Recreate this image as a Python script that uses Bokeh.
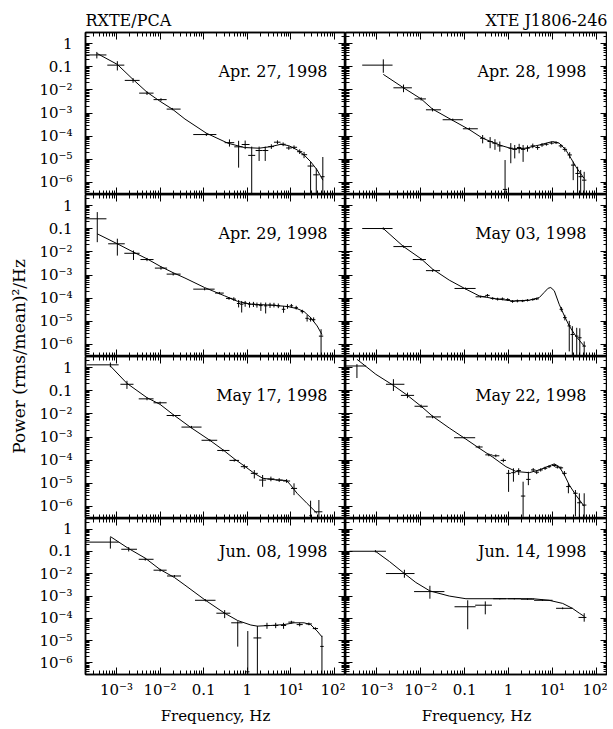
import numpy as np
from bokeh.plotting import figure
from bokeh.models import (ColumnDataSource, Range1d, LogAxis, FixedTicker,
                          CustomJSTickFormatter, Label)
from bokeh.layouts import row, column
from bokeh.embed import file_html
from bokeh.resources import INLINE

# ------------------------------------------------------------------
# DATA (log10 of frequency [Hz] and of power [(rms/mean)^2/Hz])
# logf: bin centre, dfl/dfr: bin half-widths (dex) left/right
# logp: power, dpd/dpu: error bar extent (dex) down/up
# model_*: fitted model curve
# ------------------------------------------------------------------
panel_names = ["Apr. 27, 1998", "Apr. 28, 1998", "Apr. 29, 1998", "May 03, 1998",
               "May 17, 1998", "May 22, 1998", "Jun. 08, 1998", "Jun. 14, 1998"]

apr27_logf = [-3.45, -2.98, -2.62, -2.30, -1.98, -1.72, -0.94, -0.41, -0.20, -0.05, 0.10, 0.27,
              0.41, 0.55, 0.69, 0.82, 0.95, 1.07, 1.20, 1.30, 1.45, 1.58, 1.73]
apr27_dfl = [0.25, 0.23, 0.19, 0.18, 0.17, 0.13, 0.30, 0.11, 0.10, 0.08, 0.08, 0.08,
             0.06, 0.07, 0.08, 0.07, 0.06, 0.06, 0.06, 0.06, 0.07, 0.07, 0.04]
apr27_dfr = [0.22, 0.16, 0.15, 0.15, 0.13, 0.19, 0.23, 0.11, 0.09, 0.10, 0.08, 0.08,
             0.07, 0.06, 0.07, 0.06, 0.07, 0.07, 0.06, 0.07, 0.07, 0.06, 0.04]
apr27_logp = [-0.49, -0.93, -1.59, -2.14, -2.42, -2.83, -3.93, -4.28, -4.46, -4.36, -4.83, -4.62,
              -4.62, -4.45, -4.26, -4.35, -4.51, -4.48, -4.67, -4.80, -5.29, -5.67, -5.75]
apr27_dpd = [0.15, 0.23, 0.10, 0.08, 0.06, 0.05, 0.06, 0.17, 0.90, 0.20, 2.00, 0.45,
             0.45, 0.10, 0.08, 0.08, 0.08, 0.08, 0.10, 0.15, 1.50, 1.00, 1.00]
apr27_dpu = [0.13, 0.17, 0.10, 0.08, 0.06, 0.05, 0.06, 0.14, 0.26, 0.17, 0.38, 0.17,
             0.17, 0.10, 0.08, 0.08, 0.08, 0.08, 0.10, 0.12, 0.19, 0.28, 0.85]
apr27_model_logf = [-3.44, -2.98, -2.62, -2.30, -1.98, -1.72, -1.43, -0.94, -0.45, -0.07, 0.27,
                    0.54, 0.77, 0.95, 1.14, 1.30, 1.45, 1.60, 1.73]
apr27_model_logp = [-0.43, -0.90, -1.55, -2.10, -2.52, -2.83, -3.26, -3.87, -4.30, -4.49, -4.52,
                    -4.45, -4.35, -4.41, -4.59, -4.81, -5.10, -5.46, -5.90]

apr28_logf = [-2.85, -2.39, -1.99, -1.73, -1.27, -0.89, -0.59, -0.42, -0.31, -0.20, -0.08, 0.05,
              0.14, 0.24, 0.33, 0.43, 0.55, 0.66, 0.76, 0.86, 0.98, 1.08, 1.19, 1.28, 1.39,
              1.47, 1.57, 1.64, 1.72]
apr28_dfl = [0.48, 0.23, 0.15, 0.15, 0.23, 0.15, 0.06, 0.06, 0.06, 0.06, 0.05, 0.05,
             0.05, 0.05, 0.05, 0.05, 0.05, 0.05, 0.05, 0.05, 0.05, 0.05, 0.05, 0.05, 0.05,
             0.05, 0.05, 0.05, 0.05]
apr28_dfr = [0.21, 0.19, 0.11, 0.19, 0.23, 0.19, 0.06, 0.06, 0.06, 0.06, 0.05, 0.05,
             0.05, 0.05, 0.05, 0.05, 0.05, 0.05, 0.05, 0.05, 0.05, 0.05, 0.05, 0.05, 0.05,
             0.05, 0.05, 0.05, 0.05]
apr28_logp = [-0.93, -1.91, -2.39, -2.86, -3.29, -3.68, -4.09, -4.23, -4.30, -4.42, -6.30, -4.52,
              -4.57, -4.49, -4.57, -4.52, -4.42, -4.49, -4.38, -4.35, -4.30, -4.28, -4.42, -4.57,
              -4.81, -5.25, -5.61, -5.75, -5.90]
apr28_dpd = [0.33, 0.19, 0.07, 0.07, 0.05, 0.05, 0.22, 0.29, 0.29, 0.25, 0.50, 0.65,
             0.39, 0.25, 0.54, 0.15, 0.10, 0.10, 0.08, 0.06, 0.06, 0.06, 0.08, 0.10, 0.15,
             0.65, 1.00, 1.00, 1.00]
apr28_dpu = [0.25, 0.14, 0.07, 0.07, 0.05, 0.05, 0.14, 0.19, 0.17, 0.19, 1.27, 0.22,
             0.19, 0.16, 0.19, 0.12, 0.10, 0.08, 0.08, 0.06, 0.06, 0.06, 0.08, 0.10, 0.12,
             0.15, 0.29, 0.29, 0.36]
apr28_model_logf = [-2.85, -2.39, -1.99, -1.73, -1.27, -0.89, -0.59, -0.21, 0.09, 0.39, 0.70,
                    1.00, 1.15, 1.30, 1.42, 1.53, 1.72]
apr28_model_logp = [-1.33, -1.91, -2.39, -2.83, -3.32, -3.72, -4.09, -4.38, -4.55, -4.52, -4.38,
                    -4.23, -4.30, -4.59, -4.96, -5.32, -5.83]

apr29_logf = [-3.44, -2.98, -2.61, -2.30, -1.98, -1.70, -0.98, -0.64, -0.42, -0.31, -0.20, -0.13,
              -0.05, 0.05, 0.14, 0.22, 0.31, 0.42, 0.52, 0.61, 0.71, 0.83, 0.92, 1.01, 1.12,
              1.26, 1.37, 1.45, 1.52, 1.69]
apr29_dfl = [0.26, 0.21, 0.21, 0.15, 0.14, 0.15, 0.26, 0.10, 0.07, 0.05, 0.04, 0.04,
             0.04, 0.04, 0.04, 0.04, 0.04, 0.04, 0.04, 0.04, 0.04, 0.04, 0.04, 0.04, 0.04,
             0.04, 0.04, 0.04, 0.04, 0.05]
apr29_dfr = [0.21, 0.17, 0.14, 0.15, 0.14, 0.17, 0.23, 0.10, 0.07, 0.05, 0.04, 0.04,
             0.04, 0.04, 0.04, 0.04, 0.04, 0.04, 0.04, 0.04, 0.04, 0.04, 0.04, 0.04, 0.04,
             0.04, 0.04, 0.04, 0.04, 0.05]
apr29_logp = [-0.57, -1.65, -2.06, -2.33, -2.70, -2.96, -3.61, -3.78, -4.01, -4.04, -4.23, -4.26,
              -4.22, -4.26, -4.26, -4.29, -4.32, -4.33, -4.30, -4.30, -4.33, -4.48, -4.36, -4.33,
              -4.41, -4.58, -4.87, -4.91, -4.93, -5.64]
apr29_dpd = [1.01, 0.51, 0.29, 0.07, 0.07, 0.06, 0.05, 0.05, 0.06, 0.08, 0.17, 0.36,
             0.15, 0.15, 0.12, 0.12, 0.23, 0.33, 0.12, 0.10, 0.10, 0.15, 0.10, 0.08, 0.08,
             0.08, 0.14, 0.10, 0.10, 1.50]
apr29_dpu = [0.29, 0.22, 0.12, 0.07, 0.07, 0.06, 0.05, 0.05, 0.06, 0.08, 0.15, 0.14,
             0.10, 0.10, 0.10, 0.10, 0.13, 0.14, 0.10, 0.10, 0.10, 0.14, 0.10, 0.08, 0.08,
             0.08, 0.14, 0.10, 0.10, 0.30]
apr29_model_logf = [-3.44, -2.98, -2.61, -2.30, -1.98, -1.70, -1.43, -0.98, -0.52, -0.22, 0.08,
                    0.54, 0.92, 1.14, 1.30, 1.45, 1.60, 1.71]
apr29_model_logp = [-1.22, -1.65, -2.01, -2.30, -2.64, -2.90, -3.13, -3.54, -3.90, -4.14, -4.26,
                    -4.30, -4.36, -4.45, -4.58, -4.84, -5.20, -5.57]

may03_logf = [-2.85, -2.39, -1.99, -1.73, -0.98, -0.64, -0.48, -0.36, -0.25, -0.14, -0.02, 0.09,
              0.20, 0.32, 0.43, 0.55, 0.64, 1.20, 1.28, 1.38, 1.45, 1.55, 1.62, 1.72]
may03_dfl = [0.48, 0.23, 0.19, 0.15, 0.25, 0.11, 0.05, 0.05, 0.05, 0.05, 0.05, 0.05,
             0.05, 0.05, 0.05, 0.05, 0.05, 0.04, 0.04, 0.04, 0.04, 0.04, 0.04, 0.04]
may03_dfr = [0.21, 0.19, 0.11, 0.17, 0.23, 0.13, 0.05, 0.05, 0.05, 0.05, 0.05, 0.05,
             0.05, 0.05, 0.05, 0.05, 0.05, 0.04, 0.04, 0.04, 0.04, 0.04, 0.04, 0.04]
may03_logp = [-0.99, -1.77, -2.33, -2.81, -3.58, -3.94, -3.88, -4.01, -4.04, -4.03, -4.06, -4.14,
              -4.12, -4.12, -4.09, -4.06, -4.03, -4.48, -4.84, -5.20, -5.57, -5.64, -5.71, -6.07]
may03_dpd = [0.05, 0.05, 0.05, 0.05, 0.04, 0.04, 0.06, 0.06, 0.06, 0.06, 0.06, 0.06,
             0.06, 0.05, 0.05, 0.05, 0.05, 0.10, 0.12, 1.10, 0.90, 0.90, 0.80, 0.50]
may03_dpu = [0.05, 0.05, 0.05, 0.05, 0.04, 0.04, 0.06, 0.06, 0.06, 0.06, 0.06, 0.06,
             0.06, 0.05, 0.05, 0.05, 0.05, 0.10, 0.12, 0.22, 0.36, 0.36, 0.41, 0.20]
may03_model_logf = [-2.85, -2.39, -1.99, -1.73, -1.35, -0.97, -0.67, -0.36, 0.09, 0.47, 0.70,
                    0.81, 0.90, 0.96, 1.04, 1.15, 1.27, 1.38, 1.53, 1.72]
may03_model_logp = [-0.99, -1.77, -2.30, -2.74, -3.22, -3.61, -3.90, -4.01, -4.12, -4.09, -3.97,
                    -3.75, -3.57, -3.54, -3.68, -4.26, -4.77, -5.20, -5.64, -6.07]

may17_logf = [-3.14, -2.76, -2.30, -2.00, -1.70, -1.28, -0.86, -0.56, -0.30, -0.07, 0.16, 0.35,
              0.54, 0.73, 0.90, 1.07, 1.45, 1.64]
may17_dfl = [0.54, 0.15, 0.19, 0.15, 0.15, 0.23, 0.19, 0.13, 0.11, 0.08, 0.08, 0.08,
             0.08, 0.08, 0.08, 0.07, 0.03, 0.11]
may17_dfr = [0.19, 0.15, 0.15, 0.15, 0.17, 0.23, 0.17, 0.15, 0.11, 0.08, 0.08, 0.08,
             0.08, 0.08, 0.08, 0.07, 0.03, 0.08]
may17_logp = [0.12, -0.72, -1.35, -1.52, -2.07, -2.57, -3.14, -3.58, -4.01, -4.28, -4.57, -4.86,
              -4.81, -4.86, -4.90, -5.22, -6.40, -6.23]
may17_dpd = [0.10, 0.20, 0.06, 0.05, 0.05, 0.05, 0.05, 0.05, 0.05, 0.10, 0.22, 0.29,
             0.10, 0.08, 0.08, 0.29, 0.50, 0.50]
may17_dpu = [0.10, 0.15, 0.06, 0.05, 0.05, 0.05, 0.05, 0.05, 0.05, 0.10, 0.14, 0.22,
             0.10, 0.08, 0.08, 0.22, 0.65, 0.51]
may17_model_logf = [-3.14, -2.76, -2.30, -2.00, -1.70, -1.28, -0.86, -0.56, -0.30, -0.07, 0.16,
                    0.35, 0.54, 0.73, 0.90, 0.99, 1.14, 1.37, 1.60]
may17_model_logp = [0.07, -0.68, -1.30, -1.59, -2.03, -2.61, -3.14, -3.55, -3.94, -4.25, -4.57,
                    -4.78, -4.83, -4.86, -4.88, -5.07, -5.43, -5.87, -6.30]

may22_logf = [-3.45, -2.62, -2.30, -1.99, -1.73, -1.01, -0.67, -0.45, -0.29, -0.12, 0.00, 0.11,
              0.23, 0.33, 0.45, 0.56, 0.64, 0.73, 0.83, 0.92, 1.04, 1.11, 1.19, 1.27, 1.36,
              1.52, 1.61, 1.72]
may22_dfl = [0.25, 0.17, 0.15, 0.15, 0.15, 0.23, 0.08, 0.08, 0.08, 0.06, 0.05, 0.05,
             0.05, 0.05, 0.05, 0.05, 0.05, 0.05, 0.05, 0.05, 0.05, 0.05, 0.05, 0.05, 0.05,
             0.05, 0.05, 0.05]
may22_dfr = [0.21, 0.25, 0.15, 0.15, 0.19, 0.25, 0.08, 0.08, 0.08, 0.06, 0.05, 0.05,
             0.05, 0.05, 0.05, 0.05, 0.05, 0.05, 0.05, 0.05, 0.05, 0.05, 0.05, 0.05, 0.05,
             0.05, 0.05, 0.05]
may22_logp = [0.07, -0.72, -1.20, -1.67, -2.13, -3.03, -3.43, -3.77, -3.81, -4.01, -4.57, -4.54,
              -4.45, -5.55, -4.83, -4.42, -4.52, -4.42, -4.35, -4.28, -4.23, -4.30, -4.33, -4.57,
              -5.14, -5.43, -5.84, -5.94]
may22_dpd = [0.52, 0.29, 0.12, 0.07, 0.06, 0.04, 0.06, 0.06, 0.06, 0.08, 0.80, 0.39,
             0.19, 0.90, 0.25, 0.08, 0.08, 0.07, 0.07, 0.06, 0.06, 0.06, 0.06, 0.10, 0.29,
             1.00, 0.80, 0.80]
may22_dpu = [0.08, 0.22, 0.12, 0.07, 0.06, 0.04, 0.06, 0.06, 0.06, 0.08, 0.15, 0.19,
             0.10, 0.62, 0.33, 0.08, 0.08, 0.07, 0.07, 0.06, 0.06, 0.06, 0.06, 0.10, 0.14,
             0.14, 0.41, 0.51]
may22_model_logf = [-3.45, -3.02, -2.62, -2.30, -1.99, -1.73, -1.35, -1.01, -0.67, -0.36, -0.06,
                    0.17, 0.47, 0.70, 0.92, 1.04, 1.15, 1.27, 1.38, 1.53, 1.72]
may22_model_logp = [0.36, -0.29, -0.77, -1.20, -1.67, -2.10, -2.61, -3.04, -3.48, -3.87, -4.28,
                    -4.49, -4.54, -4.42, -4.25, -4.16, -4.28, -4.64, -5.07, -5.51, -5.99]

jun08_logf = [-3.14, -2.72, -2.34, -2.00, -1.67, -0.96, -0.52, -0.22, 0.01, 0.23, 0.45, 0.65,
              0.83, 1.01, 1.20, 1.41, 1.56, 1.71]
jun08_dfl = [0.56, 0.17, 0.15, 0.15, 0.17, 0.24, 0.19, 0.15, 0.04, 0.09, 0.06, 0.06,
             0.06, 0.07, 0.07, 0.07, 0.06, 0.04]
jun08_dfr = [0.19, 0.19, 0.19, 0.15, 0.15, 0.23, 0.13, 0.11, 0.04, 0.09, 0.06, 0.06,
             0.06, 0.07, 0.07, 0.07, 0.06, 0.04]
jun08_logp = [-0.58, -0.90, -1.35, -1.84, -2.10, -3.19, -3.77, -4.20, -6.40, -4.88, -4.32, -4.32,
              -4.32, -4.17, -4.28, -4.25, -4.46, -5.26]
jun08_dpd = [0.29, 0.10, 0.06, 0.06, 0.04, 0.05, 0.22, 1.07, 0.50, 1.70, 0.15, 0.12,
             0.15, 0.06, 0.08, 0.06, 0.06, 1.50]
jun08_dpu = [0.22, 0.10, 0.06, 0.06, 0.04, 0.05, 0.14, 0.07, 1.83, 0.54, 0.12, 0.12,
             0.12, 0.06, 0.08, 0.06, 0.06, 0.48]
jun08_model_logf = [-3.14, -2.72, -2.34, -2.00, -1.67, -1.43, -0.96, -0.52, -0.22, 0.08, 0.23,
                    0.54, 0.84, 1.07, 1.30, 1.45, 1.60, 1.71]
jun08_model_logp = [-0.33, -0.87, -1.30, -1.81, -2.17, -2.51, -3.19, -3.77, -4.10, -4.30, -4.35,
                    -4.32, -4.28, -4.20, -4.20, -4.28, -4.57, -4.83]

jun14_logf = [-3.03, -2.37, -1.79, -0.93, -0.53, -0.20, 0.13, 0.43, 0.77, 1.23, 1.72]
jun14_dfl = [0.59, 0.42, 0.36, 0.30, 0.23, 0.15, 0.15, 0.15, 0.19, 0.15, 0.13]
jun14_dfr = [0.24, 0.23, 0.33, 0.18, 0.15, 0.15, 0.15, 0.15, 0.23, 0.23, 0.05]
jun14_logp = [-0.99, -1.99, -2.80, -3.48, -3.41, -3.12, -3.12, -3.14, -3.19, -3.55, -3.96]
jun14_dpd = [0.05, 0.19, 0.32, 1.01, 0.41, 0.03, 0.03, 0.03, 0.03, 0.04, 0.19]
jun14_dpu = [0.05, 0.17, 0.26, 0.29, 0.17, 0.03, 0.03, 0.03, 0.03, 0.04, 0.19]
jun14_model_logf = [-3.03, -2.71, -2.37, -2.11, -1.79, -1.35, -0.97, -0.21, 0.55, 0.92, 1.23,
                    1.45, 1.61, 1.72]
jun14_model_logp = [-0.99, -1.45, -1.99, -2.39, -2.77, -3.00, -3.12, -3.12, -3.12, -3.19, -3.33,
                    -3.55, -3.77, -3.91]

# axis ticks (exponents) and their labels
x_tick_exp = [-3, -2, -1, 0, 1, 2]
x_tick_text = ["10\u207b\u00b3", "10\u207b\u00b2", "0.1", "1", "10\u00b9", "10\u00b2"]
y_tick_exp = [0, -1, -2, -3, -4, -5, -6]
y_tick_text = ["1", "0.1", "10\u207b\u00b2", "10\u207b\u00b3", "10\u207b\u2074", "10\u207b\u2075",
               "10\u207b\u2076"]

log_x_range = (-3.71, 2.25)
log_y_range = (-6.52, 0.48)

panels = [
    (apr27_logf, apr27_dfl, apr27_dfr, apr27_logp, apr27_dpd, apr27_dpu, apr27_model_logf, apr27_model_logp),
    (apr28_logf, apr28_dfl, apr28_dfr, apr28_logp, apr28_dpd, apr28_dpu, apr28_model_logf, apr28_model_logp),
    (apr29_logf, apr29_dfl, apr29_dfr, apr29_logp, apr29_dpd, apr29_dpu, apr29_model_logf, apr29_model_logp),
    (may03_logf, may03_dfl, may03_dfr, may03_logp, may03_dpd, may03_dpu, may03_model_logf, may03_model_logp),
    (may17_logf, may17_dfl, may17_dfr, may17_logp, may17_dpd, may17_dpu, may17_model_logf, may17_model_logp),
    (may22_logf, may22_dfl, may22_dfr, may22_logp, may22_dpd, may22_dpu, may22_model_logf, may22_model_logp),
    (jun08_logf, jun08_dfl, jun08_dfr, jun08_logp, jun08_dpd, jun08_dpu, jun08_model_logf, jun08_model_logp),
    (jun14_logf, jun14_dfl, jun14_dfr, jun14_logp, jun14_dpd, jun14_dpu, jun14_model_logf, jun14_model_logp),
]

# ------------------------------------------------------------------
# LAYOUT / STYLE  (page coordinates: Bokeh's page template has no body margin)
# ------------------------------------------------------------------
FONT = "DejaVu Serif"
FW = [263, 262]      # frame widths (left, right column)
FH = 162             # frame height
YLAB_W = 36
BORDER_L = 46
TOP_B = 32
BOT_B = 47

x_major = [10.0 ** e for e in x_tick_exp]
x_minor = [m * 10.0 ** e for e in range(-4, 3) for m in range(2, 10)]
y_major = [10.0 ** e for e in y_tick_exp]
y_minor = [m * 10.0 ** e for e in range(-7, 1) for m in range(2, 10)]

FMT_CODE = """
const e = Math.round(Math.log10(tick));
const i = exps.indexOf(e);
return i >= 0 ? texts[i] : "";
"""
EMPTY_CODE = "return '';"


def style_axis(ax, major, minor, exps, texts, show):
    ax.ticker = FixedTicker(ticks=major, minor_ticks=minor)
    ax.major_tick_in = 7
    ax.major_tick_out = 0
    ax.minor_tick_in = 4
    ax.minor_tick_out = 0
    ax.axis_line_color = "black"
    ax.axis_line_width = 1.5
    ax.major_tick_line_color = "black"
    ax.minor_tick_line_color = "black"
    ax.major_tick_line_width = 1
    ax.minor_tick_line_width = 1
    if show:
        ax.formatter = CustomJSTickFormatter(args=dict(exps=exps, texts=texts), code=FMT_CODE)
        ax.major_label_text_font = FONT
        ax.major_label_text_font_size = "15px"
        ax.major_label_text_color = "black"
    else:
        ax.formatter = CustomJSTickFormatter(code=EMPTY_CODE)
        ax.major_label_text_font_size = "0px"
        ax.major_label_standoff = 0


cols = [[], []]
for k, (logf, dfl, dfr, logp, dpd, dpu, mlf, mlp) in enumerate(panels):
    c, r = k % 2, k // 2
    fw = FW[c]
    bl = BORDER_L if c == 0 else 0
    bt = TOP_B if r == 0 else 0
    bb = BOT_B if r == 3 else 0
    p = figure(width=bl + fw, height=bt + FH + bb,
               x_axis_type="log", y_axis_type="log",
               x_range=Range1d(10 ** log_x_range[0], 10 ** log_x_range[1]),
               y_range=Range1d(10 ** log_y_range[0], 10 ** log_y_range[1]),
               toolbar_location=None, output_backend="svg",
               min_border_left=bl, min_border_right=0,
               min_border_top=bt, min_border_bottom=bb)
    p.xgrid.visible = False
    p.ygrid.visible = False
    p.outline_line_color = "black"
    p.outline_line_width = 1.5
    p.background_fill_color = "white"
    p.border_fill_color = "white"

    style_axis(p.below[0], x_major, x_minor, x_tick_exp, x_tick_text, r == 3)
    style_axis(p.left[0], y_major, y_minor, y_tick_exp, y_tick_text, c == 0)
    top_ax = LogAxis()
    style_axis(top_ax, x_major, x_minor, x_tick_exp, x_tick_text, False)
    p.add_layout(top_ax, "above")
    right_ax = LogAxis()
    style_axis(right_ax, y_major, y_minor, y_tick_exp, y_tick_text, False)
    p.add_layout(right_ax, "right")
    if c == 0:
        p.left[0].major_label_standoff = 13
    if r == 3:
        p.below[0].major_label_standoff = 6
        p.below[0].axis_label = "Frequency, Hz"
        p.below[0].axis_label_text_font = FONT
        p.below[0].axis_label_text_font_style = "normal"
        p.below[0].axis_label_text_font_size = "15px"
        p.below[0].axis_label_text_color = "black"
        p.below[0].axis_label_standoff = 5

    lf = np.array(logf); lp = np.array(logp)
    src = ColumnDataSource(dict(
        f=10 ** lf, p=10 ** lp,
        f0=10 ** (lf - np.array(dfl)), f1=10 ** (lf + np.array(dfr)),
        p0=10 ** (lp - np.array(dpd)), p1=10 ** (lp + np.array(dpu))))
    p.segment(x0="f0", y0="p", x1="f1", y1="p", source=src, line_color="black", line_width=1)
    p.segment(x0="f", y0="p0", x1="f", y1="p1", source=src, line_color="black", line_width=1)
    p.line(10 ** np.array(mlf), 10 ** np.array(mlp), line_color="black", line_width=1)

    p.add_layout(Label(x=fw - 21, y=FH - 39, x_units="screen", y_units="screen",
                       text=panel_names[k], text_align="right", text_baseline="middle",
                       text_font=FONT, text_font_size="16px", text_color="black"))
    if r == 0:
        p.title.text = "RXTE/PCA" if c == 0 else "XTE J1806-246"
        p.title.align = "left" if c == 0 else "right"
        p.title.text_font = FONT
        p.title.text_font_style = "normal"
        p.title.text_font_size = "16px"
        p.title.text_color = "black"
        p.title.standoff = 6
    cols[c].append(p)

ylab = figure(width=YLAB_W, height=TOP_B + 4 * FH + BOT_B, toolbar_location=None,
              output_backend="svg", x_axis_location=None, y_axis_location=None,
              title="Power (rms/mean)\u00b2/Hz", title_location="left",
              min_border_left=28, min_border_right=0, min_border_top=TOP_B,
              min_border_bottom=BOT_B)
ylab.outline_line_color = None
ylab.xgrid.visible = False
ylab.ygrid.visible = False
ylab.title.align = "center"
ylab.title.text_font = FONT
ylab.title.text_font_style = "normal"
ylab.title.text_font_size = "17px"
ylab.title.text_color = "black"
ylab.title.standoff = 0

layout = row(ylab, column(*cols[0]), column(*cols[1]))

open("out.html", "w").write(file_html(layout, INLINE))
